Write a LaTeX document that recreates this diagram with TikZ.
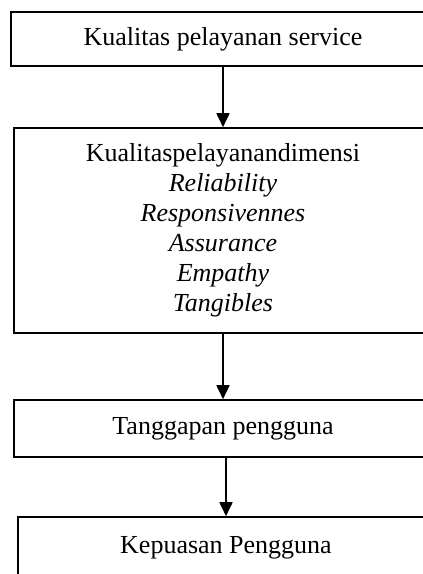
\documentclass[tikz,border=0pt]{standalone}
\usepackage{fontspec}
\setmainfont{Liberation Serif}
\usetikzlibrary{arrows.meta}
\begin{document}
\begin{tikzpicture}[x=1pt,y=-1pt,
  boxnode/.style={draw=black, line width=1.6pt, rectangle, inner sep=0pt, align=center,
    font=\fontsize{26}{30}\selectfont},
  arr/.style={line width=1.8pt, -{Triangle[width=13pt,length=14pt]}}]
\path[use as bounding box] (0,0) rectangle (423,574);
\clip (0,0) rectangle (423,574);
\node[boxnode, minimum width=424pt, minimum height=54pt] (b1) at (223,39) {Kualitas pelayanan service};
\node[boxnode, minimum width=418pt, minimum height=205pt] (b2) at (223,230.5)
  {Kualitaspelayanandimensi\\ \textit{Reliability}\\ \textit{Responsivennes}\\ \textit{Assurance}\\ \textit{Empathy}\\ \textit{Tangibles}};
\node[boxnode, minimum width=418pt, minimum height=57pt] (b3) at (223,428.5) {Tanggapan pengguna};
\node[boxnode, minimum width=416pt, minimum height=62pt] (b4) at (226,548) {Kepuasan Pengguna};
\draw[arr] (b1.south) -- (b2.north);
\draw[arr] (b2.south) -- (b3.north);
\draw[arr] (b3.south -| b4.north) -- (b4.north);
\end{tikzpicture}
\end{document}
